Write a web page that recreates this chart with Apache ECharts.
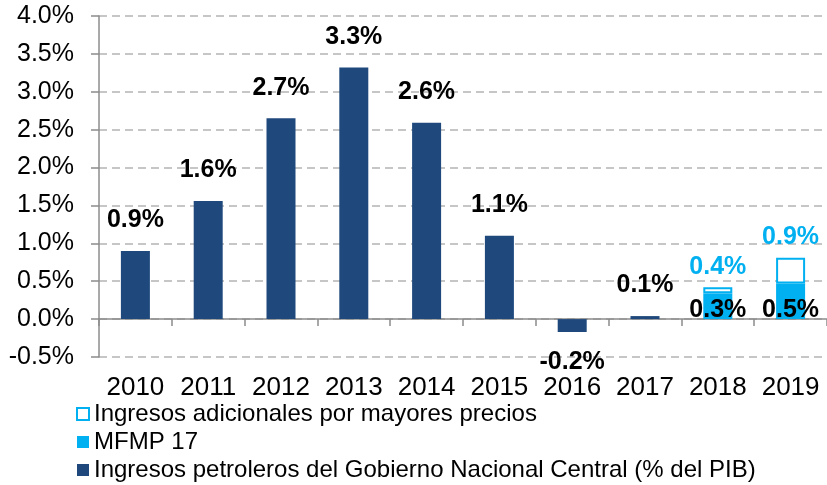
<!DOCTYPE html>
<html>
<head>
<meta charset="utf-8">
<script src="https://cdn.jsdelivr.net/npm/echarts@6/dist/echarts.min.js"></script>
<style>
html,body{margin:0;padding:0;background:#fff;}
#chart{width:827px;height:485px;}
</style>
</head>
<body>
<div id="chart"></div>
<script>
const categories = ['2010','2011','2012','2013','2014','2015','2016','2017','2018','2019'];
const petroleros = [0.90, 1.56, 2.65, 3.32, 2.59, 1.10, -0.17, 0.04, null, null];
const petrolerosLabels = ['0.9%','1.6%','2.7%','3.3%','2.6%','1.1%','-0.2%','0.1%','',''];
const mfmp = [null, null, null, null, null, null, null, null, 0.34, 0.47];
const mfmpLabels = ['','','','','','','','','0.3%','0.5%'];
const adicionales = [null, null, null, null, null, null, null, null, 0.08, 0.34];
const adicionalesLabels = ['','','','','','','','','0.4%','0.9%'];
const yTicks = { min: -0.5, max: 4.0, interval: 0.5 };

const names = [
  'Ingresos adicionales por mayores precios',
  'MFMP 17',
  'Ingresos petroleros del Gobierno Nacional Central (% del PIB)'
];
const DARK = '#1F497D';
const LIGHT = '#00B0F0';
const FONT = '"Liberation Sans", Arial, sans-serif';

const chart = echarts.init(document.getElementById('chart'));
const labelBase = { show: true, fontFamily: FONT, fontSize: 25, fontWeight: 'bold', color: '#000' };

chart.setOption({
  animation: false,
  textStyle: { fontFamily: FONT },
  grid: { left: 99, right: 0, top: 16, bottom: 128, containLabel: false },
  legend: {
    orient: 'vertical',
    left: 76,
    top: 400,
    padding: 0,
    itemWidth: 12,
    itemHeight: 12,
    itemGap: 0,
    icon: 'rect',
    data: names,
    textStyle: { fontFamily: FONT, fontSize: 24, color: '#000', lineHeight: 28, height: 28 }
  },
  xAxis: [
    {
      type: 'category',
      data: categories,
      axisLine: { onZero: true, lineStyle: { color: '#8C8C8C', width: 1.5 } },
      axisTick: { show: true, length: 7, alignWithLabel: false, interval: 0, lineStyle: { color: '#8C8C8C', width: 1.5 } },
      axisLabel: { show: false },
      splitLine: { show: false }
    },
    {
      type: 'category',
      data: categories,
      position: 'bottom',
      axisLine: { show: false, onZero: false },
      axisTick: { show: false },
      axisLabel: { show: true, interval: 0, hideOverlap: false, fontFamily: FONT, fontSize: 26, color: '#000', margin: 18 },
      splitLine: { show: false }
    }
  ],
  yAxis: {
    type: 'value',
    min: yTicks.min,
    max: yTicks.max,
    interval: yTicks.interval,
    axisLine: { show: true, lineStyle: { color: '#8C8C8C', width: 1.5 } },
    axisTick: { show: true, length: 8, lineStyle: { color: '#8C8C8C', width: 1.5 } },
    axisLabel: {
      fontFamily: FONT, fontSize: 25, color: '#000', margin: 25,
      formatter: v => v.toFixed(1) + '%'
    },
    splitLine: { show: true, lineStyle: { color: '#B4B4B4', width: 1.5, type: [8, 5] } }
  },
  series: [
    {
      name: names[2],
      type: 'bar',
      stack: 'total',
      barWidth: 29,
      xAxisIndex: 0,
      itemStyle: { color: DARK },
      data: petroleros.map((v, i) => ({
        value: v,
        label: Object.assign({}, labelBase, {
          position: v !== null && v < 0 ? 'bottom' : 'top',
          distance: 18,
          formatter: () => petrolerosLabels[i]
        })
      }))
    },
    {
      name: names[1],
      type: 'bar',
      stack: 'total',
      barWidth: 29,
      xAxisIndex: 0,
      itemStyle: { color: LIGHT },
      z: 2,
      data: mfmp.map((v, i) => ({
        value: v,
        label: Object.assign({}, labelBase, {
          position: 'insideBottom',
          distance: -3,
          formatter: () => mfmpLabels[i]
        })
      }))
    },
    {
      name: names[0],
      type: 'bar',
      stack: 'total',
      barWidth: 29,
      xAxisIndex: 0,
      itemStyle: { color: '#FFFFFF', borderColor: LIGHT, borderWidth: 2 },
      data: adicionales.map((v, i) => ({
        value: v,
        label: Object.assign({}, labelBase, {
          position: 'top',
          distance: 8,
          color: LIGHT,
          formatter: () => adicionalesLabels[i]
        })
      }))
    }
  ]
});
</script>
</body>
</html>
